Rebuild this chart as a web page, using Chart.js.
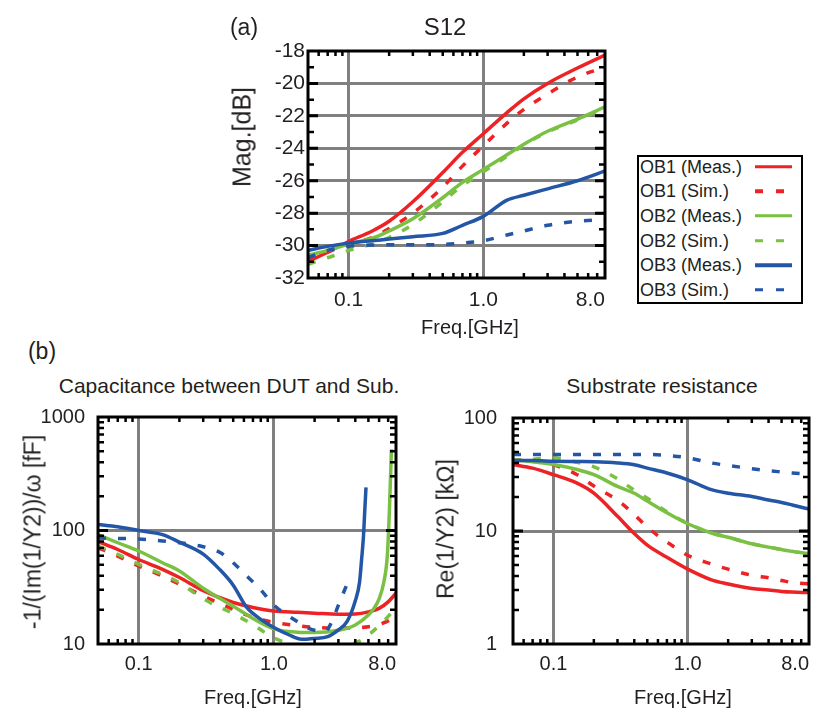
<!DOCTYPE html>
<html>
<head>
<meta charset="utf-8">
<script src="https://cdn.jsdelivr.net/npm/chart.js@4.4.1/dist/chart.umd.min.js"></script>
<style>
  html, body { margin: 0; padding: 0; background: #fff; }
  body { width: 820px; height: 715px; position: relative; overflow: hidden;
         font-family: 'Liberation Sans', Arial, Helvetica, sans-serif; color: #231f20; }
  canvas { position: absolute; }
  .txt { position: absolute; white-space: nowrap; line-height: 1; transform: translate(-50%, -50%); }
  .txt.rot { transform: translate(-50%, -50%) rotate(-90deg); }
  #legend { position: absolute; left: 637px; top: 155px; width: 166px; height: 149px;
            box-sizing: border-box; border: 2px solid #000; }
  .row { position: absolute; left: 1px; font-size: 18px; line-height: 1; white-space: nowrap; transform: translateY(-50%); }
  .sample { position: absolute; left: 116px; height: 3.5px; transform: translateY(-50%); }
</style>
</head>
<body>
<canvas id="s12Chart" width="420" height="320" style="left:200px;top:0"></canvas>
<canvas id="capChart" width="420" height="315" style="left:0;top:400px"></canvas>
<canvas id="resChart" width="400" height="315" style="left:420px;top:400px"></canvas>

<div class="txt" style="left:244px;top:27px;font-size:23px">(a)</div>
<div class="txt" style="left:445px;top:27px;font-size:24px">S12</div>
<div class="txt rot" style="left:242px;top:137px;font-size:25px">Mag.[dB]</div>
<div class="txt" style="left:470px;top:327px;font-size:20px">Freq.[GHz]</div>

<div class="txt" style="left:42px;top:351px;font-size:23px">(b)</div>
<div class="txt" style="left:229px;top:385px;font-size:21px">Capacitance between DUT and Sub.</div>
<div class="txt" style="left:662px;top:385px;font-size:21px">Substrate resistance</div>
<div class="txt rot" style="left:33px;top:532px;font-size:23px">-1/(Im(1/Y2))/ω [fF]</div>
<div class="txt rot" style="left:446px;top:529px;font-size:23px">Re(1/Y2) [kΩ]</div>
<div class="txt" style="left:253px;top:697px;font-size:20px">Freq.[GHz]</div>
<div class="txt" style="left:683px;top:697px;font-size:20px">Freq.[GHz]</div>

<div id="legend"></div>

<script>
// ---- legend / series names ----
const seriesNames = ['OB1 (Meas.)', 'OB1 (Sim.)', 'OB2 (Meas.)', 'OB2 (Sim.)', 'OB3 (Meas.)', 'OB3 (Sim.)'];

// ---- shared frequency axis ticks [GHz] ----
const freqTicks = [0.1, 1, 8];
const freqTickLabels = ['0.1', '1.0', '8.0'];

// ---- (a) S12 magnitude [dB] ----
const s12Ticks = [-32, -30, -28, -26, -24, -22, -20, -18];
const s12Freq = [0.05, 0.07, 0.1, 0.15, 0.2, 0.3, 0.5, 0.7, 1, 1.5, 2, 3, 5, 8];
const s12Ob1Meas = [-31.0, -30.4, -29.75, -29.1, -28.5, -27.3, -25.5, -24.25, -23.1, -21.8, -20.95, -20.0, -19.05, -18.25];
const s12Ob1Sim  = [-30.9, -30.4, -29.95, -29.5, -28.95, -28.0, -26.4, -25.1, -23.85, -22.45, -21.6, -20.65, -19.6, -19.0];
const s12Ob2Meas = [-30.6, -30.3, -29.9, -29.55, -29.1, -28.35, -27.05, -26.1, -25.3, -24.4, -23.75, -22.95, -22.2, -21.45];
const s12Ob2Sim  = [-31.15, -30.75, -30.3, -29.9, -29.5, -28.7, -27.3, -26.3, -25.45, -24.5, -23.8, -23.0, -22.25, -21.5];
const s12Ob3Meas = [-30.3, -30.05, -29.85, -29.7, -29.6, -29.45, -29.25, -28.75, -28.2, -27.2, -26.9, -26.5, -26.0, -25.4];
const s12Ob3Sim  = [-30.75, -30.3, -30.05, -29.97, -29.95, -29.95, -29.93, -29.85, -29.7, -29.35, -29.1, -28.75, -28.5, -28.4];

// ---- (b) left: capacitance between DUT and Sub. [fF] ----
const capTicks = [10, 100, 1000];
const capTickLabels = ['10', '100', '1000'];
const capFreq = [0.05, 0.07, 0.1, 0.15, 0.2, 0.3, 0.5, 0.7, 1, 1.5, 2, 3, 4, 5, 6, 7, 8];
const capOb1Meas = [80, 68, 55.5, 45.5, 38.5, 29.5, 23.2, 21, 19.5, 19, 18.7, 18.3, 18.4, 19.2, 20.6, 23.5, 28];
const capOb1Sim  = [70.5, 59.5, 48.7, 39.7, 33.6, 26.5, 20.2, 17.2, 15.5, 14.5, 14.0, 13.8, 13.9, 14.2, 14.9, 16.0, 17.8];
const capOb2MeasFreq = [0.05, 0.07, 0.1, 0.15, 0.2, 0.3, 0.5, 0.7, 1, 1.5, 2, 3, 4, 5, 5.5, 6, 6.5, 6.9, 7.15, 7.4];
const capOb2Meas = [92, 78, 66, 52, 44, 31, 21.5, 16.8, 13.6, 12.7, 12.6, 13.2, 14.7, 18, 20.6, 25, 35, 60, 150, 520];
const capOb2SimFreq = [0.05, 0.07, 0.1, 0.15, 0.2, 0.3, 0.5, 0.7, 1, 1.3, 1.7, 2.2, 3, 3.8, 4.3, 5, 6, 7, 8];
const capOb2Sim  = [73, 61.5, 50.3, 41, 34.7, 25, 18.5, 14.8, 11.3, 10.1, 9.6, 9.5, 9.6, 10.0, 10.6, 12, 14.5, 17.5, 21];
const capOb3MeasFreq = [0.05, 0.07, 0.1, 0.15, 0.2, 0.3, 0.4, 0.5, 0.63, 0.8, 1, 1.3, 1.6, 2, 2.5, 3, 3.5, 4, 4.3, 4.45, 4.6, 4.7, 4.8];
const capOb3Meas = [113, 108, 100, 92, 79, 62, 45, 33, 21, 16.5, 14, 12, 11, 11.2, 11.6, 13.3, 16, 24, 35, 55, 90, 150, 240];
const capOb3SimFreq = [0.05, 0.1, 0.15, 0.2, 0.3, 0.4, 0.5, 0.6, 0.8, 1, 1.4, 2, 2.4, 2.7, 3, 3.45];
const capOb3Sim  = [86, 84, 81, 78, 72, 64, 52, 42, 30, 22, 16.5, 13.2, 13, 16, 22, 33];

// ---- (b) right: substrate resistance [kOhm] ----
const resTicks = [1, 10, 100];
const resTickLabels = ['1', '10', '100'];
const resFreq = [0.05, 0.07, 0.1, 0.15, 0.2, 0.3, 0.4, 0.5, 0.7, 1, 1.5, 2, 3, 4, 5, 6, 8];
const resOb1Meas = [38.7, 36, 31.5, 26.5, 21.6, 13.5, 9.5, 7.5, 5.85, 4.6, 3.7, 3.4, 3.1, 3.0, 2.92, 2.88, 2.85];
const resOb1Sim  = [43, 41.5, 38.5, 31.5, 25, 18.7, 14, 10.8, 8.0, 6.1, 5.1, 4.6, 4.06, 3.85, 3.65, 3.5, 3.4];
const resOb2Meas = [43, 41, 38.8, 35, 31.5, 24.8, 21.6, 18.4, 14.5, 11.6, 9.6, 8.8, 7.7, 7.2, 6.85, 6.6, 6.3];
const resOb2Sim  = [41.5, 43, 44.4, 40.5, 37, 29, 23, 19.5, 14.8, 11.7, 9.6, 8.8, 7.7, 7.2, 6.85, 6.6, 6.3];
const resOb3Meas = [42, 42, 41.5, 41.2, 41, 40, 38.5, 36, 32.6, 28.4, 23.2, 21.6, 20.2, 18.8, 17.9, 17, 15.6];
const resOb3Sim  = [47.6, 47.6, 47.6, 47.6, 47.6, 47.6, 47.6, 47.6, 46.7, 44.4, 40, 38, 35.6, 34.2, 33.3, 32.6, 32];

// ---- styles ----
const red = '#ed2224', green = '#7ac143', blue = '#2356a6';
const seriesColors = [red, red, green, green, blue, blue];
const seriesDashed = [false, true, false, true, false, true];
const grey = '#808080';
const textColor = '#231f20';
const fontFamily = "'Liberation Sans', Arial, Helvetica, sans-serif";

// minor tick marks on log axes (2..9 of each decade)
const logMinor = [];
for (let e = -2; e <= 3; e++) {
    for (let k = 2; k <= 9; k++) logMinor.push(k * Math.pow(10, e));
}

// inward tick marks and the heavy black frame round the plot area
const frameTicks = {
    id: 'frameTicks',
    afterDatasetsDraw(chart, args, opts) {
        const { ctx, chartArea: a, scales: { x, y } } = chart;
        const inX = v => v > x.min && v < x.max;
        const inY = v => v > y.min && v < y.max;
        const yMark = (v, len) => {
            const py = y.getPixelForValue(v);
            ctx.moveTo(a.left, py); ctx.lineTo(a.left + len, py);
            ctx.moveTo(a.right, py); ctx.lineTo(a.right - len, py);
        };
        ctx.save();
        ctx.strokeStyle = '#000';
        ctx.lineWidth = 2.5;
        ctx.beginPath();
        logMinor.filter(inX).forEach(v => {
            const px = x.getPixelForValue(v);
            ctx.moveTo(px, a.bottom); ctx.lineTo(px, a.bottom - 5);
            ctx.moveTo(px, a.top); ctx.lineTo(px, a.top + 5);
        });
        opts.yMinor.filter(inY).forEach(v => yMark(v, 6));
        ctx.stroke();
        ctx.lineWidth = 3;
        ctx.beginPath();
        opts.yMajor.filter(inY).forEach(v => yMark(v, 10));
        ctx.stroke();
        ctx.strokeRect(a.left, a.top, a.width, a.height);
        ctx.restore();
    }
};

function series(i, freqs, vals) {
    return {
        label: seriesNames[i],
        data: freqs.map((f, k) => ({ x: f, y: vals[k] })),
        borderColor: seriesColors[i],
        borderWidth: 3.5,
        borderDash: seriesDashed[i] ? [8, 12] : [],
        pointRadius: 0,
        fill: false,
        cubicInterpolationMode: 'monotone',
        clip: 0
    };
}

function makeChart(id, datasets, o) {
    const xValues = [0.05, ...freqTicks];
    const xLabels = ['', ...freqTickLabels];
    return new Chart(document.getElementById(id), {
        type: 'line',
        data: { datasets },
        options: {
            responsive: false,
            animation: false,
            layout: { padding: { top: o.padTop, right: o.padRight, left: 0, bottom: 0 } },
            plugins: {
                legend: { display: false },
                tooltip: { enabled: false },
                frameTicks: { yMinor: o.yMinor, yMajor: o.yMajor }
            },
            scales: {
                x: {
                    type: 'logarithmic', min: 0.05, max: 8,
                    afterBuildTicks: s => { s.ticks = xValues.map(v => ({ value: v })); },
                    afterFit: s => { s.height = o.xHeight; s.paddingLeft = 0; s.paddingRight = 0; },
                    ticks: {
                        autoSkip: false, maxRotation: 0, align: 'inner', padding: o.xPad,
                        color: textColor, font: { family: fontFamily, size: o.fontSize },
                        callback: v => { const k = xValues.indexOf(v); return k < 0 ? '' : xLabels[k]; }
                    },
                    grid: {
                        drawTicks: false, lineWidth: 3,
                        color: c => freqTicks.slice(0, 2).includes(c.tick.value) ? grey : 'rgba(0,0,0,0)'
                    },
                    border: { display: false }
                },
                y: {
                    type: o.yType, min: o.yMin, max: o.yMax,
                    afterBuildTicks: s => { s.ticks = o.yTicks.map(v => ({ value: v })); },
                    afterFit: s => { s.width = o.yWidth; s.paddingTop = 0; s.paddingBottom = 0; },
                    ticks: {
                        padding: o.yPad, color: textColor, font: { family: fontFamily, size: o.fontSize },
                        callback: v => { const k = o.yTicks.indexOf(v); return k < 0 ? '' : o.yLabels[k]; }
                    },
                    grid: {
                        drawTicks: false, lineWidth: 3,
                        color: c => (c.tick.value > o.yMin && c.tick.value < o.yMax) ? grey : 'rgba(0,0,0,0)'
                    },
                    border: { display: false }
                }
            }
        },
        plugins: [frameTicks]
    });
}

makeChart('s12Chart', [
    series(4, s12Freq, s12Ob3Meas), series(5, s12Freq, s12Ob3Sim),
    series(2, s12Freq, s12Ob2Meas), series(3, s12Freq, s12Ob2Sim),
    series(0, s12Freq, s12Ob1Meas), series(1, s12Freq, s12Ob1Sim)
], {
    padTop: 51, padRight: 15, yWidth: 108, xHeight: 42, yPad: 3, xPad: 10, fontSize: 21,
    yType: 'linear', yMin: -32, yMax: -18, yTicks: s12Ticks, yLabels: s12Ticks.map(String),
    yMajor: s12Ticks, yMinor: [-31, -29, -27, -25, -23, -21, -19]
});

makeChart('capChart', [
    series(4, capOb3MeasFreq, capOb3Meas), series(5, capOb3SimFreq, capOb3Sim),
    series(2, capOb2MeasFreq, capOb2Meas), series(3, capOb2SimFreq, capOb2Sim),
    series(0, capFreq, capOb1Meas), series(1, capFreq, capOb1Sim)
], {
    padTop: 17, padRight: 24, yWidth: 98, xHeight: 71, yPad: 13, xPad: 8, fontSize: 20,
    yType: 'logarithmic', yMin: 10, yMax: 1000, yTicks: capTicks, yLabels: capTickLabels,
    yMajor: capTicks, yMinor: logMinor
});

makeChart('resChart', [
    series(4, resFreq, resOb3Meas), series(5, resFreq, resOb3Sim),
    series(2, resFreq, resOb2Meas), series(3, resFreq, resOb2Sim),
    series(0, resFreq, resOb1Meas), series(1, resFreq, resOb1Sim)
], {
    padTop: 18, padRight: 11, yWidth: 93, xHeight: 71, yPad: 16, xPad: 8, fontSize: 20,
    yType: 'logarithmic', yMin: 1, yMax: 100, yTicks: resTicks, yLabels: resTickLabels,
    yMajor: resTicks, yMinor: logMinor
});

// legend box (text on the left, line sample on the right)
const legend = document.getElementById('legend');
seriesNames.forEach((name, i) => {
    const cy = 9.7 + i * 24.6;
    const row = document.createElement('div');
    row.className = 'row';
    row.style.top = cy + 'px';
    row.textContent = name;
    legend.appendChild(row);
    const sample = document.createElement('div');
    sample.className = 'sample';
    sample.style.top = cy + 'px';
    if (seriesDashed[i]) {
        sample.style.width = '30px';
        sample.style.background = `repeating-linear-gradient(to right, ${seriesColors[i]} 0 8px, transparent 8px 21px)`;
    } else {
        sample.style.width = '37px';
        sample.style.background = seriesColors[i];
    }
    legend.appendChild(sample);
});
</script>
</body>
</html>
